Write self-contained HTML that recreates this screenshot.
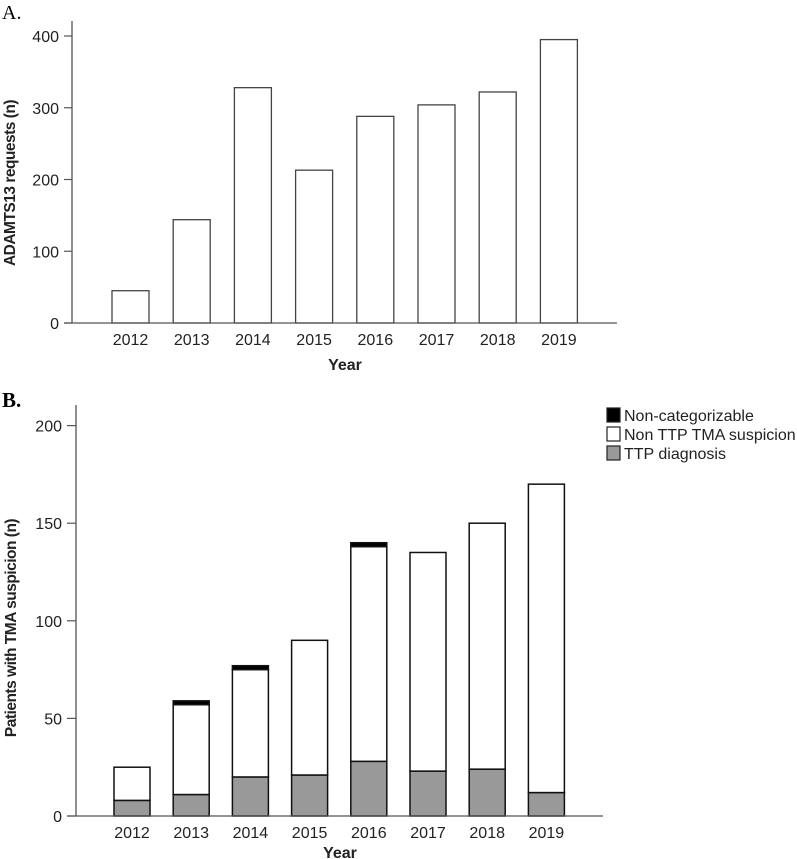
<!DOCTYPE html>
<html><head><meta charset="utf-8"><style>
body{margin:0;background:#fff}
svg{display:block;font-family:"Liberation Sans",Arial,sans-serif}
</style></head><body>
<svg id="s" width="797" height="859" viewBox="0 0 797 859">
<text x="2" y="19" font-family="Liberation Serif,serif" font-size="20">A.</text>
<text x="2" y="407" font-family="Liberation Serif,serif" font-size="21" font-weight="bold">B.</text>
<g id="ga"></g>
<g id="gb"></g>
</svg>
<script>
const years=["2012","2013","2014","2015","2016","2017","2018","2019"];
const requests=[45,144,328,213,288,304,322,395];
const ticksA=[0,100,200,300,400];
const ttp=[8,11,20,21,28,23,24,12];
const nonTTP=[17,46,55,69,110,112,126,158];
const nonCat=[0,2,2,0,2,0,0,0];
const ticksB=[0,50,100,150,200];
const NS="http://www.w3.org/2000/svg";
function mk(p,t,a,txt){const e=document.createElementNS(NS,t);for(const k in a)e.setAttribute(k,a[k]);if(txt!==undefined)e.textContent=txt;p.appendChild(e);return e;}
// Panel A
const ga=document.getElementById('ga');
const yA=v=>323-v*0.7175, xA=i=>130.5+i*61.2;
mk(ga,'line',{x1:72,y1:21,x2:72,y2:323,stroke:'#555','stroke-width':1.3});
ticksA.forEach(t=>{
 const l=mk(ga,'line',{x1:64,x2:72,y1:yA(t),y2:yA(t),stroke:'#555','stroke-width':1.2});
 
 const tx=mk(ga,'text',{x:59,y:yA(t)+6,'text-anchor':'end','font-size':16,fill:'#222'},t);
 
});
requests.forEach((v,i)=>{
 const r=mk(ga,'rect',{x:xA(i)-18.5,y:yA(v),width:37,height:323-yA(v),fill:'#fff',stroke:'#444','stroke-width':1.3});
 
 const tx=mk(ga,'text',{x:xA(i),y:345,'text-anchor':'middle','font-size':16,fill:'#222'},years[i]);
 
});
mk(ga,'line',{x1:64,y1:323,x2:617,y2:323,stroke:'#555','stroke-width':1.3});
let t1=mk(ga,'text',{x:345,y:370,'text-anchor':'middle','font-size':16,'font-weight':'bold',fill:'#222'},'Year');

let t2=mk(ga,'text',{transform:'translate(15,183) rotate(-90)','text-anchor':'middle','font-size':15.5,'font-weight':'bold',fill:'#222','letter-spacing':'-0.5'},'ADAMTS13 requests (n)');

// Panel B
const gb=document.getElementById('gb');
const yB=v=>816-v*1.952, xB=i=>132+i*59.2;
mk(gb,'line',{x1:76,y1:405,x2:76,y2:816,stroke:'#555','stroke-width':1.3});
ticksB.forEach(t=>{
 const l=mk(gb,'line',{x1:67,x2:76,y1:yB(t),y2:yB(t),stroke:'#555','stroke-width':1.2});
 
 const tx=mk(gb,'text',{x:62,y:yB(t)+6,'text-anchor':'end','font-size':16,fill:'#222'},t);
 
});
years.forEach((yr,i)=>{
 const x=xB(i)-18;
 const a=ttp[i],b=a+nonTTP[i],c=b+nonCat[i];
 const r1=mk(gb,'rect',{x:x,y:yB(a),width:36,height:yB(0)-yB(a),fill:'#999',stroke:'#111','stroke-width':1.5});
 
 const r2=mk(gb,'rect',{x:x,y:yB(b),width:36,height:yB(a)-yB(b),fill:'#fff',stroke:'#111','stroke-width':1.5});
 
 if(nonCat[i]>0){
  const r3=mk(gb,'rect',{x:x,y:yB(c),width:36,height:yB(b)-yB(c),fill:'#000',stroke:'#111','stroke-width':1.5});
  
 }
 const tx=mk(gb,'text',{x:xB(i),y:838,'text-anchor':'middle','font-size':16,fill:'#222'},yr);
 
});
mk(gb,'line',{x1:67,y1:816,x2:603,y2:816,stroke:'#555','stroke-width':1.3});
let t3=mk(gb,'text',{x:340,y:858,'text-anchor':'middle','font-size':16,'font-weight':'bold',fill:'#222'},'Year');

let t4=mk(gb,'text',{transform:'translate(16,628) rotate(-90)','text-anchor':'middle','font-size':15.5,'font-weight':'bold',fill:'#222','letter-spacing':'-0.5'},'Patients with TMA suspicion (n)');

const legNames=["Non-categorizable","Non TTP TMA suspicion","TTP diagnosis"];
const legFill=["#000","#fff","#999"];
legNames.forEach((n,i)=>{
 const y=408+i*19;
 const g=mk(gb,'g',{});
 
 mk(g,'rect',{x:607,y:y,width:13,height:14,fill:legFill[i],stroke:'#222','stroke-width':1.2});
 mk(g,'text',{x:624,y:y+13,'font-size':16,fill:'#222'},n);
});
</script>
</body></html>
